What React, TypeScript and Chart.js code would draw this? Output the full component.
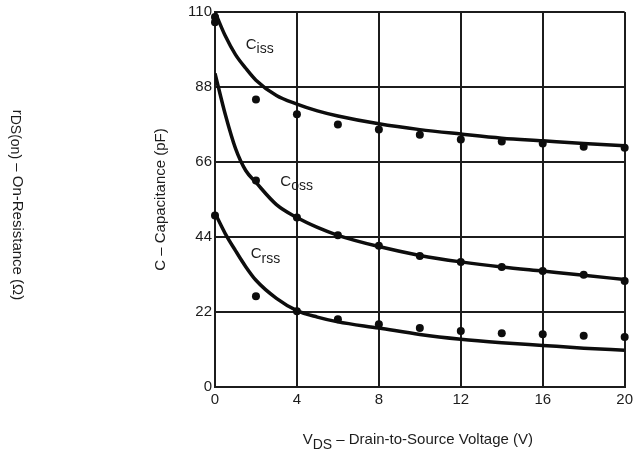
import React, { useEffect, useRef } from "react";
import { Chart, registerables } from "chart.js";

Chart.register(...registerables);

// Axis ticks
const voltageTicks = [0, 4, 8, 12, 16, 20];
const capacitanceTicks = [0, 22, 44, 66, 88, 110];

// Typical curves: sample VDS points and capacitance in pF
const curveVds = [0, 0.5, 1, 1.5, 2, 3, 4, 5, 6, 8, 10, 12, 14, 16, 18, 20];
const cissCurve = [110, 103, 97.5, 93.5, 90, 85.5, 83, 81, 79.5, 77.2, 75.5, 74.2, 73, 72.2, 71.4, 70.8];
const cossCurve = [92, 80, 70, 63.5, 60, 53.5, 49.7, 46.8, 44.5, 41.2, 38.6, 36.7, 35.2, 34, 32.8, 31.5];
const crssCurve = [51, 45, 40, 35.3, 31.3, 26, 22.4, 20.5, 19.1, 17.3, 15.4, 14.0, 13.0, 12.2, 11.4, 10.8];

// Measured points
const cissVds = [0, 0, 2, 4, 6, 8, 10, 12, 14, 16, 18, 20];
const cissMeasured = [108.5, 107, 84.3, 80, 77, 75.5, 74, 72.6, 72, 71.4, 70.5, 70.2];
const cossVds = [2, 4, 6, 8, 10, 12, 14, 16, 18, 20];
const cossMeasured = [60.6, 49.7, 44.5, 41.4, 38.4, 36.7, 35.2, 34, 32.9, 31.1];
const crssVds = [0, 2, 4, 6, 8, 10, 12, 14, 16, 18, 20];
const crssMeasured = [50.3, 26.6, 22.2, 19.9, 18.4, 17.3, 16.4, 15.8, 15.5, 15.0, 14.7];

// Curve labels: [main, subscript, VDS, pF]
const curveLabels: [string, string, number, number][] = [
  ["C", "iss", 1.5, 99.2],
  ["C", "oss", 3.19, 59.1],
  ["C", "rss", 1.74, 37.7],
];

const FONT = "'Liberation Sans', Arial, Helvetica, sans-serif";
const INK = "#1c1c1c";

type Part = { t: string; sub?: boolean };

function drawParts(ctx: CanvasRenderingContext2D, x: number, y: number, parts: Part[], size: number, subSize: number, subShift: number) {
  let cx = x;
  for (const p of parts) {
    ctx.font = `${p.sub ? subSize : size}px ${FONT}`;
    ctx.fillText(p.t, cx, p.sub ? y + subShift : y);
    cx += ctx.measureText(p.t).width;
  }
}

function partsWidth(ctx: CanvasRenderingContext2D, parts: Part[], size: number, subSize: number) {
  let w = 0;
  for (const p of parts) {
    ctx.font = `${p.sub ? subSize : size}px ${FONT}`;
    w += ctx.measureText(p.t).width;
  }
  return w;
}

const annotations = {
  id: "annotations",
  afterDraw(chart: any) {
    const ctx: CanvasRenderingContext2D = chart.ctx;
    const xs = chart.scales.x;
    const ys = chart.scales.y;
    ctx.save();
    ctx.fillStyle = INK;
    ctx.textBaseline = "alphabetic";
    ctx.textAlign = "left";

    // curve names
    for (const [main, sub, vx, vy] of curveLabels) {
      drawParts(ctx, xs.getPixelForValue(vx), ys.getPixelForValue(vy), [{ t: main }, { t: sub, sub: true }], 15, 14, 4.5);
    }

    // x-axis title
    const xParts: Part[] = [{ t: "V" }, { t: "DS", sub: true }, { t: " – Drain-to-Source Voltage (V)" }];
    const xw = partsWidth(ctx, xParts, 15, 14);
    drawParts(ctx, (xs.left + xs.right) / 2 - xw / 2 - 2, 444, xParts, 15, 14, 4.5);

    // capacitance axis title (reads upward)
    ctx.save();
    ctx.translate(161, (ys.top + ys.bottom) / 2);
    ctx.rotate(-Math.PI / 2);
    ctx.font = `15px ${FONT}`;
    ctx.textAlign = "center";
    ctx.textBaseline = "middle";
    ctx.fillText("C – Capacitance (pF)", 0, 0);
    ctx.restore();

    // on-resistance axis title (reads downward)
    ctx.save();
    const rParts: Part[] = [{ t: "r" }, { t: "DS(on)", sub: true }, { t: " – On-Resistance (Ω)" }];
    const rw = partsWidth(ctx, rParts, 15, 14);
    ctx.translate(13, 205 - rw / 2);
    ctx.rotate(Math.PI / 2);
    ctx.textAlign = "left";
    ctx.textBaseline = "alphabetic";
    drawParts(ctx, 0, 0, rParts, 15, 14, 2.5);
    ctx.restore();

    ctx.restore();
  },
};

function curve(values: number[]) {
  return values.map((v, i) => ({ x: curveVds[i], y: v }));
}

function points(xv: number[], yv: number[]) {
  return yv.map((v, i) => ({ x: xv[i], y: v }));
}

export default function App() {
  const canvasRef = useRef<HTMLCanvasElement | null>(null);

  useEffect(() => {
    const canvas = canvasRef.current;
    if (!canvas) return;
    const lineSet = (data: { x: number; y: number }[]) => ({
      type: "line" as const,
      data,
      borderColor: "#0d0d0d",
      borderWidth: 3.5,
      pointRadius: 0,
      fill: false,
      cubicInterpolationMode: "monotone" as const,
    });
    const dotSet = (data: { x: number; y: number }[]) => ({
      type: "scatter" as const,
      data,
      backgroundColor: "#0d0d0d",
      borderColor: "#0d0d0d",
      borderWidth: 0,
      pointRadius: 4,
      showLine: false,
      clip: false as any,
    });

    const chart = new Chart(canvas, {
      type: "line",
      data: {
        datasets: [
          lineSet(curve(cissCurve)),
          lineSet(curve(cossCurve)),
          lineSet(curve(crssCurve)),
          dotSet(points(cissVds, cissMeasured)),
          dotSet(points(cossVds, cossMeasured)),
          dotSet(points(crssVds, crssMeasured)),
        ] as any,
      },
      options: {
        animation: false,
        responsive: false,
        layout: { padding: { top: 11, right: 8, bottom: 0, left: 0 } },
        plugins: { legend: { display: false }, tooltip: { enabled: false } },
        scales: {
          x: {
            type: "linear",
            min: voltageTicks[0],
            max: voltageTicks[voltageTicks.length - 1],
            afterBuildTicks: (s: any) => {
              s.ticks = voltageTicks.map((v) => ({ value: v }));
            },
            afterFit: (s: any) => {
              s.height = 69;
            },
            grid: { color: INK, lineWidth: 2, drawTicks: false },
            border: { color: INK, width: 2 },
            ticks: { color: INK, font: { family: FONT, size: 15 }, padding: 4, maxRotation: 0 },
          },
          y: {
            type: "linear",
            min: capacitanceTicks[0],
            max: capacitanceTicks[capacitanceTicks.length - 1],
            afterBuildTicks: (s: any) => {
              s.ticks = capacitanceTicks.map((v) => ({ value: v }));
            },
            afterFit: (s: any) => {
              s.width = 215;
            },
            grid: { color: INK, lineWidth: 2, drawTicks: false },
            border: { color: INK, width: 2 },
            ticks: { color: INK, font: { family: FONT, size: 15 }, padding: 3 },
          },
        },
      },
      plugins: [annotations],
    });
    return () => chart.destroy();
  }, []);

  return (
    <div style={{ position: "fixed", left: 0, top: 0, width: 637, height: 456, background: "#fff" }}>
      <canvas ref={canvasRef} width={637} height={456} style={{ display: "block" }} />
    </div>
  );
}
